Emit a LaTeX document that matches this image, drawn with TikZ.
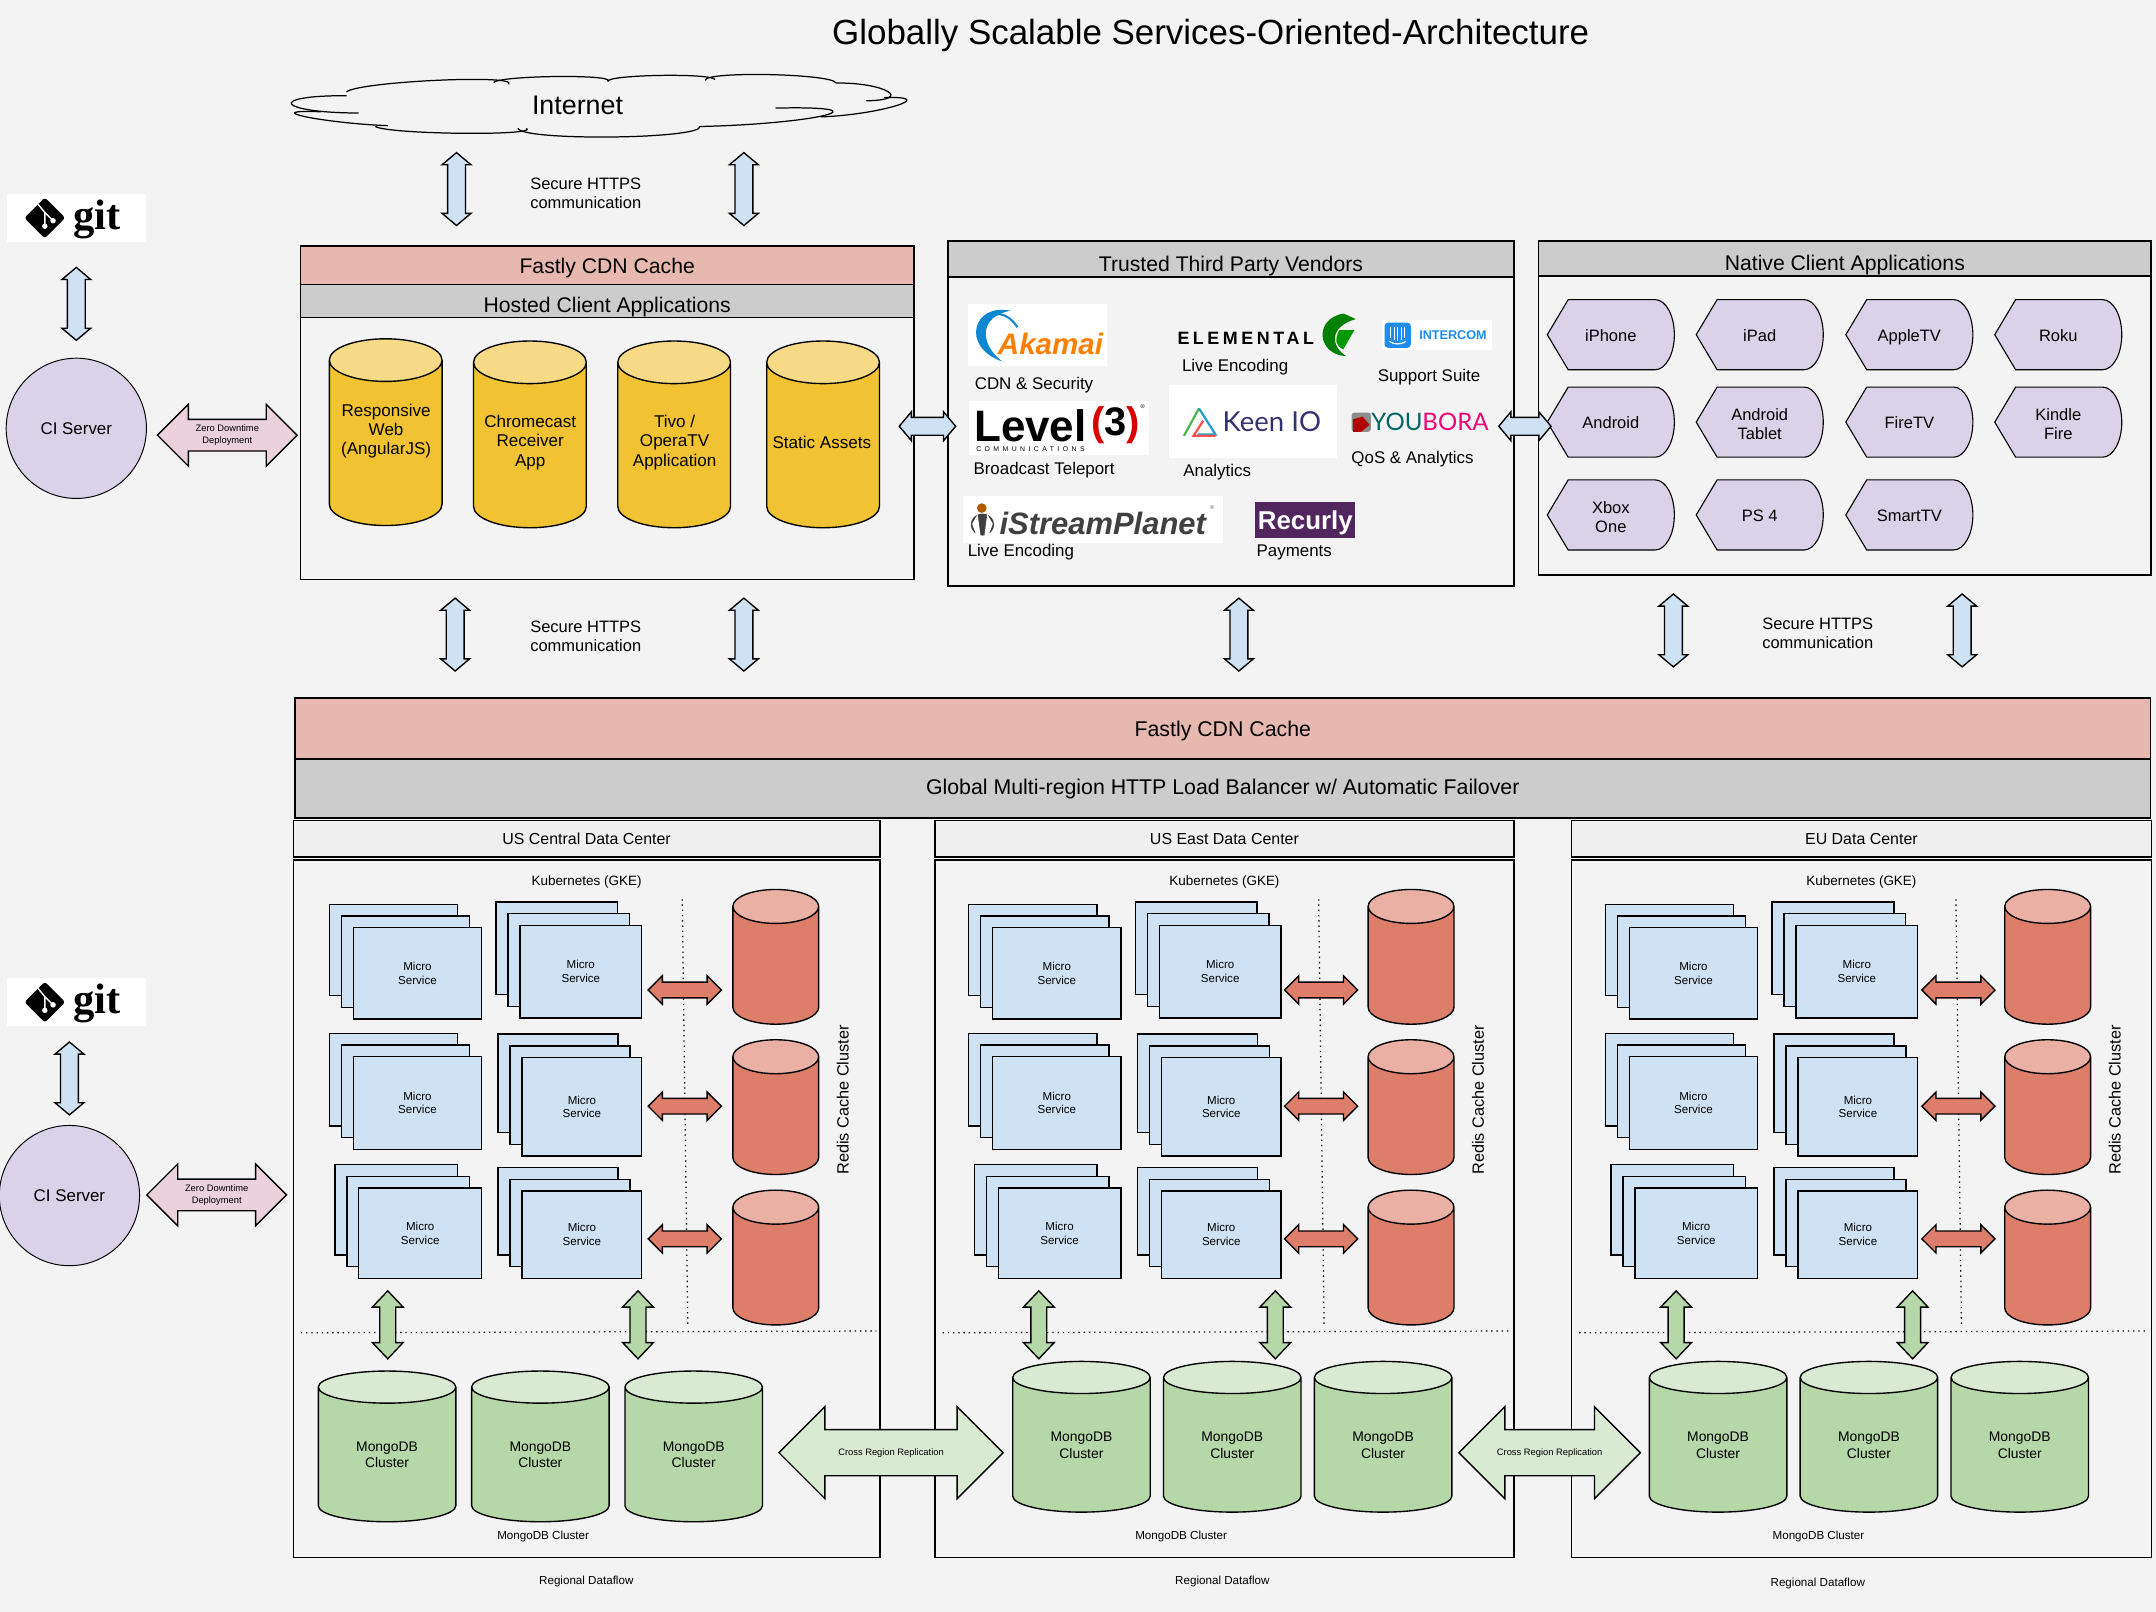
\documentclass[tikz,border=0pt]{standalone}
\usepackage{fontspec}
\setmainfont{Liberation Sans}
\newfontfamily\gitfont{Liberation Serif}
\newfontfamily\latofont{Lato}
\newfontfamily\widefont[LetterSpace=20]{Liberation Sans}
\newfontfamily\tinywidefont[LetterSpace=50]{Liberation Sans}
\usetikzlibrary{positioning,calc,shapes.geometric,shapes.arrows,shadows}

\definecolor{pagegray}{HTML}{F3F3F3}
\definecolor{headgray}{HTML}{CCCCCC}
\definecolor{dcgray}{HTML}{EFEFEF}
\definecolor{cdnpink}{HTML}{E6B8AF}
\definecolor{deploypink}{HTML}{EAD1DC}
\definecolor{clientpurple}{HTML}{D9D2E9}
\definecolor{svcblue}{HTML}{CFE2F3}
\definecolor{appyellow}{HTML}{F1C232}
\definecolor{apptop}{HTML}{F6DA85}
\definecolor{redisred}{HTML}{DD7E6B}
\definecolor{redistop}{HTML}{EBB0A4}
\definecolor{mongogreen}{HTML}{B6D7A8}
\definecolor{mongotop}{HTML}{D9EAD3}
\definecolor{recurlypurple}{HTML}{51265F}
\definecolor{intercomblue}{HTML}{1F8DED}

\newcommand{\fs}[2]{\fontsize{#1}{#2}\selectfont}

\tikzset{
    x=1pt,
    y=-1pt,
    banner/.style = {
        draw,
        shape=rectangle,
        line width=1pt,
        inner sep=0pt
    },
    whitebox/.style = {
        fill=white,
        shape=rectangle,
        inner sep=0pt
    },
    plaintext/.style = {
        inner sep=0pt,
        align=center,
        font=\fs{12}{14}
    },
    vendortext/.style = {
        plaintext,
        font=\fs{12.3}{14}
    },
    apptext/.style = {
        plaintext,
        font=\fs{12.4}{14}
    },
    ciserver/.style = {
        draw,
        shape=circle,
        fill=clientpurple,
        minimum size=102pt,
        inner sep=0pt,
        line width=.7pt,
        font=\fs{12.3}{14}
    },
    cylbase/.style = {
        draw,
        shape=cylinder,
        shape border rotate=90,
        cylinder uses custom fill,
        inner sep=0pt,
        align=center,
        line width=1pt
    },
    appcyl/.style = {
        cylbase,
        cylinder body fill=appyellow,
        cylinder end fill=apptop,
        minimum width=82pt,
        minimum height=135.8pt,
        aspect=.5
    },
    rediscyl/.style = {
        cylbase,
        cylinder body fill=redisred,
        cylinder end fill=redistop,
        minimum width=62.4pt,
        minimum height=98pt,
        aspect=.52
    },
    mongocyl/.style = {
        cylbase,
        cylinder body fill=mongogreen,
        cylinder end fill=mongotop,
        minimum width=100pt,
        minimum height=109.6pt,
        aspect=.52,
        font=\fs{10.1}{12}
    },
    microsvc/.style = {
        draw,
        shape=rectangle,
        fill=svcblue,
        inner sep=0pt,
        align=center,
        line width=1pt,
        font=\fs{8.4}{10},
        copy shadow={shadow xshift=-17.4pt,shadow yshift=17pt,fill=svcblue,draw=black,line width=1pt},
        copy shadow={shadow xshift=-8.7pt,shadow yshift=8.5pt,fill=svcblue,draw=black,line width=1pt}
    },
    blockarrow/.style = {
        draw,
        shape=double arrow,
        inner sep=0pt,
        line width=1pt
    },
    httparrow/.style = {
        blockarrow,
        fill=svcblue,
        inner ysep=6pt,
        double arrow head extend=4pt,
        double arrow tip angle=100
    },
    httpvert/.style = {
        httparrow,
        shape border rotate=90,
        inner xsep=6pt,
        inner ysep=0pt,
        minimum height=53pt
    },
    redisarrow/.style = {
        blockarrow,
        fill=redisred,
        inner ysep=5.2pt,
        double arrow head extend=4.6pt,
        double arrow tip angle=90,
        minimum height=53.2pt
    },
    mongoarrow/.style = {
        blockarrow,
        fill=mongogreen,
        shape border rotate=90,
        inner xsep=5.3pt,
        double arrow head extend=5.4pt,
        double arrow tip angle=87,
        minimum height=49.4pt
    },
    deployarrow/.style = {
        blockarrow,
        fill=deploypink,
        inner ysep=11pt,
        double arrow head extend=11pt,
        double arrow tip angle=90,
        minimum height=101.6pt
    },
    replicaarrow/.style = {
        blockarrow,
        fill=mongotop,
        inner ysep=16.3pt,
        double arrow head extend=16.6pt,
        double arrow tip angle=90
    },
    arrowtext/.style = {
        inner sep=0pt,
        align=center,
        font=\fs{6.8}{8.5}
    },
    smalltext/.style = {
        inner sep=0pt,
        font=\fs{8.45}{10}
    },
    dotline/.style = {
        line width=.9pt,
        dash pattern=on 1pt off 2.8pt
    },
    cloudline/.style = {
        line width=.9pt
    },
    clientshape/.style = {
        draw,
        fill=clientpurple,
        line width=.8pt
    }
}

% one lobe of the cloud, from #1 over #2 to #3
\newcommand{\puff}[3]{
    \draw[cloudline] (#1) .. controls ($.333*(#1)+1.333*(#2)-.667*(#3)$) and ($.333*(#3)+1.333*(#2)-.667*(#1)$) .. (#3);
}
\newcommand{\clientapp}[4]{
    \draw[clientshape] (#2-46.2,#3) -- (#2-31,#3-25.5) -- (#2+32.2,#3-25.5)
        arc[start angle=90,end angle=-90,x radius=14pt,y radius=25.5pt]
        -- (#2-31,#3+25.5) -- cycle;
    \node[plaintext] (#1) at (#2,#3+1.5) {\vphantom{Ap}#4};
}

\begin{document}
\begin{tikzpicture}
    \fill[pagegray] (0,0) rectangle (1568,1172.3);
    \useasboundingbox (0,0) rectangle (1568,1172.3);

    \node[inner sep=0pt,font=\fs{25.4}{28}] (title) at (880.5,25.5) {Globally Scalable Services-Oriented-Architecture};

    % internet
    \puff{252,69.6}{212.3,75.8}{260.8,82.2}
    \puff{233.5,81.3}{222.5,85}{282,91.4}
    \puff{273,92}{335,97}{383,93.3}
    \puff{376.7,93.3}{445,99.7}{509,91.9}
    \puff{564,78.6}{600,84}{509,92}
    \puff{597,85}{652,77}{643,71}
    \puff{630,73.3}{646,66.5}{608,60.4}
    \puff{608,60.4}{559.5,54.3}{513,58.5}
    \puff{520,57.9}{480,54.9}{442,59.3}
    \puff{442,59}{405,55.7}{359,59.9}
    \puff{370,61.3}{317,58.5}{252,66.9}
    \node[inner sep=0pt,font=\fs{19.5}{22}] (internet) at (420,76.5) {Internet};

    % git and ci
    \foreach \ciname/\gitx/\gity/\cix/\ciy/\arrx/\arry/\depx/\depy in {
        upper/55.6/158.5/55.5/311.5/55.5/221/165.3/316.5,
        lower/55.6/728.8/50.5/869.5/50.5/784.3/157.6/869}{
        \node[whitebox,minimum width=101pt,minimum height=35pt] (git\ciname) at (\gitx,\gity) {};
        \node[fill=black,rotate=45,minimum size=21pt,inner sep=0pt,rounded corners=2pt] (gitmark\ciname) at ({\gitx-23},\gity) {};
        \draw[white,line width=1pt] ($(gitmark\ciname)+(-5,-10)$) -- ($(gitmark\ciname)+(0,-4)$) -- ($(gitmark\ciname)+(0,6)$);
        \draw[white,line width=1pt] ($(gitmark\ciname)+(0,-4)$) -- ($(gitmark\ciname)+(6,2)$);
        \fill[white] ($(gitmark\ciname)+(0,6)$) circle (2pt) ($(gitmark\ciname)+(6,2)$) circle (2pt);
        \node[inner sep=0pt,font=\gitfont\bfseries\fs{31}{31}] (gitword\ciname) at ({\gitx+15},{\gity+1}) {git};
        \node[ciserver] (ci\ciname) at (\cix,\ciy) {CI Server};
        \node[httpvert] (gitarrow\ciname) at (\arrx,\arry) {};
        \node[deployarrow,label={[arrowtext]center:Zero Downtime\\Deployment}] (deploy\ciname) at (\depx,\depy) {};
    }

    % hosted clients
    \node[banner,fill=cdnpink,minimum width=446pt,minimum height=28pt,font=\fs{15.4}{18},text height=15.4pt,text depth=3pt] (fastlytop) at (441.6,193) {Fastly CDN Cache};
    \node[banner,fill=headgray,minimum width=446pt,minimum height=24pt,font=\fs{15.4}{18},text height=19pt,text depth=3pt] (hostedhead) at (441.6,219) {Hosted Client Applications};
    \node[banner,minimum width=446pt,minimum height=190.5pt] (hostedbody) at (441.6,326.2) {};
    \node[appcyl] (webapp) at (280.5,322.3) {\hspace*{62pt}};
    \node[appcyl] (chromeapp) at (385.4,323.9) {\hspace*{62pt}};
    \node[appcyl] (tivoapp) at (490.3,323.9) {\hspace*{62pt}};
    \node[appcyl] (assets) at (598.6,323.9) {\hspace*{62pt}};
    \node[apptext] (webtext) at (280.8,313.5) {Responsive\\Web\\(AngularJS)};
    \node[apptext] (chrometext) at (385.6,321.8) {Chromecast\\Receiver\\App};
    \node[apptext] (tivotext) at (490.6,321.8) {Tivo /\\OperaTV\\Application};
    \node[apptext] (assetstext) at (597.7,321.8) {Static Assets};

    % vendors
    \node[banner,fill=headgray,minimum width=411.5pt,minimum height=26.2pt,font=\fs{15.4}{18},text height=20.6pt,text depth=3pt] (vendorhead) at (895.2,188.4) {Trusted Third Party Vendors};
    \node[banner,minimum width=411.5pt,minimum height=224.8pt] (vendorbody) at (895.2,313.9) {};
    \node[whitebox,minimum width=101pt,minimum height=45pt] (akamaibox) at (754.5,243.5) {};
    \fill[cyan!70!blue] (735,226) .. controls (708,220) and (698,252) .. (729,263) .. controls (712,250) and (712,230) .. cycle;
    \draw[cyan!70!blue,line width=1.5pt] (740,238) .. controls (732,226) and (722,226) .. (715,234);
    \node[inner sep=0pt,font=\bfseries\itshape\fs{21.5}{24},text=orange] (akamai) at (764,250) {Akamai};
    \node[vendortext] (akamaitext) at (752,280) {CDN \& Security};
    \node[inner sep=0pt,font=\widefont\bfseries\fs{13}{15}] (elemental) at (906,246.2) {ELEMENTAL};
    \fill[green!50!black] (977,228) .. controls (955,232) and (958,258) .. (979,259) .. controls (968,252) and (966,238) .. (986,232) -- cycle;
    \fill[green!60!black] (985,240) -- (974,240) .. controls (970,248) and (972,252) .. (977,254) -- cycle;
    \node[vendortext] (elementaltext) at (898.3,267) {Live Encoding};
    \node[whitebox,minimum width=80pt,minimum height=21.8pt] (intercombox) at (1045,243.6) {};
    \node[fill=intercomblue,minimum width=19pt,minimum height=18.4pt,inner sep=0pt,rounded corners=2.5pt] (intercomicon) at (1016.5,243.8) {};
    \foreach \barx/\bary in {-5/4,-2.5/5.5,0/6,2.5/5.5,5/4}{
        \draw[white,line width=.9pt] ($(intercomicon)+(\barx,-6)$) -- ($(intercomicon)+(\barx,\bary-2)$);
    }
    \draw[white,line width=.9pt] ($(intercomicon)+(-6,4.5)$) .. controls ($(intercomicon)+(-2,7)$) and ($(intercomicon)+(2,7)$) .. ($(intercomicon)+(6,4.5)$);
    \node[inner sep=0pt,font=\bfseries\fs{9.2}{11},text=intercomblue] (intercom) at (1056.7,244) {INTERCOM};
    \node[vendortext] (intercomtext) at (1039.3,274.5) {Support Suite};
    \node[whitebox,minimum width=130.7pt,minimum height=39.4pt] (levelbox) at (770,311.3) {};
    \node[inner sep=0pt,font=\bfseries\fs{32}{34}] (level) at (749.4,309.5) {Level};
    \node[inner sep=0pt,font=\bfseries\fs{29}{32},text depth=0pt] (levelthree) at (811.5,306.5) {\textcolor{red!85!black}{(}3\textcolor{red!85!black}{)}};
    \node[inner sep=0pt,font=\tinywidefont\fs{5}{6}] (levelcomm) at (749.4,327) {COMMUNICATIONS};
    \node[inner sep=0pt,font=\fs{4}{5}] (levelmark) at (831,296) {®};
    \node[vendortext] (leveltext) at (759.3,342) {Broadcast Teleport};
    \node[whitebox,minimum width=122.5pt,minimum height=53pt] (keenbox) at (911.2,306.5) {};
    \draw[green!60!black!70,line width=1.6pt] (861,317) -- (872,297);
    \draw[cyan!80!black,line width=1.6pt] (872,297) -- (884,316) -- (871,316);
    \draw[red!70,line width=1.6pt] (884,317) -- (868,317) -- (875,306);
    \node[inner sep=0pt,font=\latofont\fs{20}{22},text=black!60!blue!60!gray] (keen) at (925,306.5) {Keen IO};
    \node[vendortext] (keentext) at (885.2,343.5) {Analytics};
    \node[fill=black!45,minimum size=14pt,inner sep=0pt,rounded corners=2pt] (youboraicon) at (990,307) {};
    \fill[red!70!black] (984,305) -- (991,303) -- (996,309) -- (990,314) -- (984,314) -- cycle;
    \node[inner sep=0pt,font=\latofont\fs{17.5}{21}] (youbora) at (1040,306.7) {\textcolor{teal!80!black}{YOU}\textcolor{magenta!80!red}{BORA}};
    \node[vendortext] (youboratext) at (1027.3,334) {QoS \& Analytics};
    \node[whitebox,minimum width=189pt,minimum height=34pt] (streambox) at (795,378) {};
    \fill[black!75] (714.5,381.5) ellipse (8.5pt and 8pt);
    \fill[white] (711,374) -- (713,389) -- (710,389) -- (707,381) -- cycle (718,374) -- (716,389) -- (719,389) -- (722,381) -- cycle;
    \fill[orange!70!black] (714,369.5) circle (3.5pt);
    \node[inner sep=0pt,font=\bfseries\itshape\fs{22.5}{24},text=black!75] (stream) at (802,381) {iStreamPlanet};
    \node[inner sep=0pt,font=\fs{4}{5},text=black!60] (streammark) at (881.5,369.5) {®};
    \node[vendortext] (streamtext) at (742.5,401.5) {Live Encoding};
    \node[fill=recurlypurple,minimum width=72.7pt,minimum height=26pt,inner sep=0pt,text=white,font=\bfseries\fs{18.8}{20},text height=17pt,text depth=3pt] (recurly) at (949.3,378) {Recurly};
    \node[vendortext] (recurlytext) at (941.3,401.5) {Payments};

    % native clients
    \node[banner,fill=headgray,minimum width=445.4pt,minimum height=25.4pt,font=\fs{15.4}{18},text height=20pt,text depth=3pt] (nativehead) at (1341.7,188) {Native Client Applications};
    \node[banner,minimum width=445.4pt,minimum height=217.6pt] (nativebody) at (1341.7,309.5) {};
    \clientapp{iphone}{1171.5}{243.4}{iPhone}
    \clientapp{ipad}{1279.8}{243.4}{iPad}
    \clientapp{appletv}{1388.6}{243.4}{AppleTV}
    \clientapp{roku}{1496.9}{243.4}{Roku}
    \clientapp{android}{1171.5}{307}{Android}
    \clientapp{tablet}{1279.8}{307}{Android\\Tablet}
    \clientapp{firetv}{1388.6}{307}{FireTV}
    \clientapp{kindle}{1496.9}{307}{Kindle\\Fire}
    \clientapp{xbox}{1171.5}{374.5}{Xbox\\One}
    \clientapp{ps}{1279.8}{374.5}{PS 4}
    \clientapp{smarttv}{1388.6}{374.5}{SmartTV}

    % secure https arrows and texts
    \foreach \arrname/\arrx/\arry in {neta/332/137.5,netb/541/137.5,hosta/331/461.5,hostb/541/461.5,vendora/901/461.5,nativea/1217/458.5,nativeb/1427/458.5}{
        \node[httpvert] (\arrname) at (\arrx,\arry) {};
    }
    \node[plaintext] (httpsa) at (426,140.5) {Secure HTTPS\\communication};
    \node[plaintext] (httpsb) at (426,462.5) {Secure HTTPS\\communication};
    \node[plaintext] (httpsc) at (1322,460.5) {Secure HTTPS\\communication};
    \node[httparrow,minimum height=41pt] (hostvendor) at (674.5,310) {};
    \node[httparrow,minimum height=38pt] (vendornative) at (1109,310) {};

    % global
    \node[banner,fill=cdnpink,minimum width=1349.5pt,minimum height=44.5pt,font=\fs{15.5}{18},text height=14.4pt,text depth=3pt] (fastlymain) at (889.3,529.8) {Fastly CDN Cache};
    \node[banner,fill=headgray,minimum width=1349.5pt,minimum height=43pt,font=\fs{15.5}{18},text height=12pt,text depth=3pt] (balancer) at (889.3,573.5) {Global Multi-region HTTP Load Balancer w/ Automatic Failover};

    % data centers
    \foreach \dcname/\dctitle/\dcleft/\dcwidth/\dcshift/\redisx/\dotx/\flowx/\flowy/\clusterx/\mongox/\mongostep/\mongoy/\greena/\greenb in {
        central/US Central Data Center/212.8/426.6/0/564.2/496.2/426.4/1150.5/395/281.5/111.5/1058/282/464,
        east/US East Data Center/679.5/421/465/1026.2/959/889/1150.5/859/786.5/109.7/1051/755.5/927.5,
        eu/EU Data Center/1142.5/421.5/928/1489.2/1422.5/1322/1151.5/1322.5/1249.5/109.7/1051/1219/1391}{
        \node[banner,anchor=north west,fill=dcgray,minimum width=\dcwidth pt,minimum height=26.7pt,font=\fs{11.6}{14}] (\dcname-head) at (\dcleft,596) {\dctitle};
        \node[banner,anchor=north west,minimum width=\dcwidth pt,minimum height=507pt] (\dcname-body) at (\dcleft,625) {};
        \node[inner sep=0pt,below=11.5pt of \dcname-body.north,font=\fs{9.8}{12}] (\dcname-kube) {Kubernetes (GKE)};
        \draw[dotline] (\dotx,654) -- ({\dotx+4},965);
        \draw[dotline] ({\dcleft+6},969.3) -- ({\dcleft+\dcwidth-2},968);
        \begin{scope}[xshift=\dcshift pt]
            \foreach \svcname/\svcx/\svcy/\svcw/\svch in {
                a/303.6/707.8/93.4/66.4, b/422.4/706.7/88.6/67.4,
                c/303.6/802.1/93.4/67.4, d/423.2/804.9/87.1/71.6,
                e/305.6/896.8/89.3/65.6, f/423.2/897.9/87.1/63.4}{
                \node[microsvc,minimum width=\svcw pt,minimum height=\svch pt] (\dcname-svc\svcname) at (\svcx,\svcy) {Micro\\Service};
            }
        \end{scope}
        \foreach \rowname/\cyly/\arry in {a/702.3/720,b/811.6/804.5,c/921/901}{
            \node[rediscyl] (\dcname-redis\rowname) at (\redisx,\cyly) {\hspace*{47.5pt}};
            \node[redisarrow] (\dcname-link\rowname) at ({\dotx+1.8},\arry) {};
        }
        \node[inner sep=0pt,rotate=90,font=\fs{11.85}{14}] (\dcname-redistext) at ({\redisx+48.8},800) {Redis Cache Cluster};
        \node[mongoarrow] (\dcname-greena) at (\greena,963.5) {};
        \node[mongoarrow] (\dcname-greenb) at (\greenb,963.5) {};
        \foreach \mongoname/\mongoidx in {a/0,b/1,c/2}{
            \node[mongocyl] (\dcname-mongo\mongoname) at ({\mongox+\mongoidx*\mongostep},\mongoy) {MongoDB\\Cluster};
        }
        \node[smalltext] (\dcname-clustertext) at (\clusterx,1117.5) {MongoDB Cluster};
        \node[smalltext] (\dcname-flowtext) at (\flowx,\flowy) {Regional Dataflow};
    }

    \node[replicaarrow,minimum height=163pt,label={[arrowtext]center:Cross Region Replication}] (replicaa) at (648,1056.5) {};
    \node[replicaarrow,minimum height=132pt,label={[arrowtext]center:Cross Region Replication}] (replicab) at (1127,1056.5) {};
\end{tikzpicture}
\end{document}
